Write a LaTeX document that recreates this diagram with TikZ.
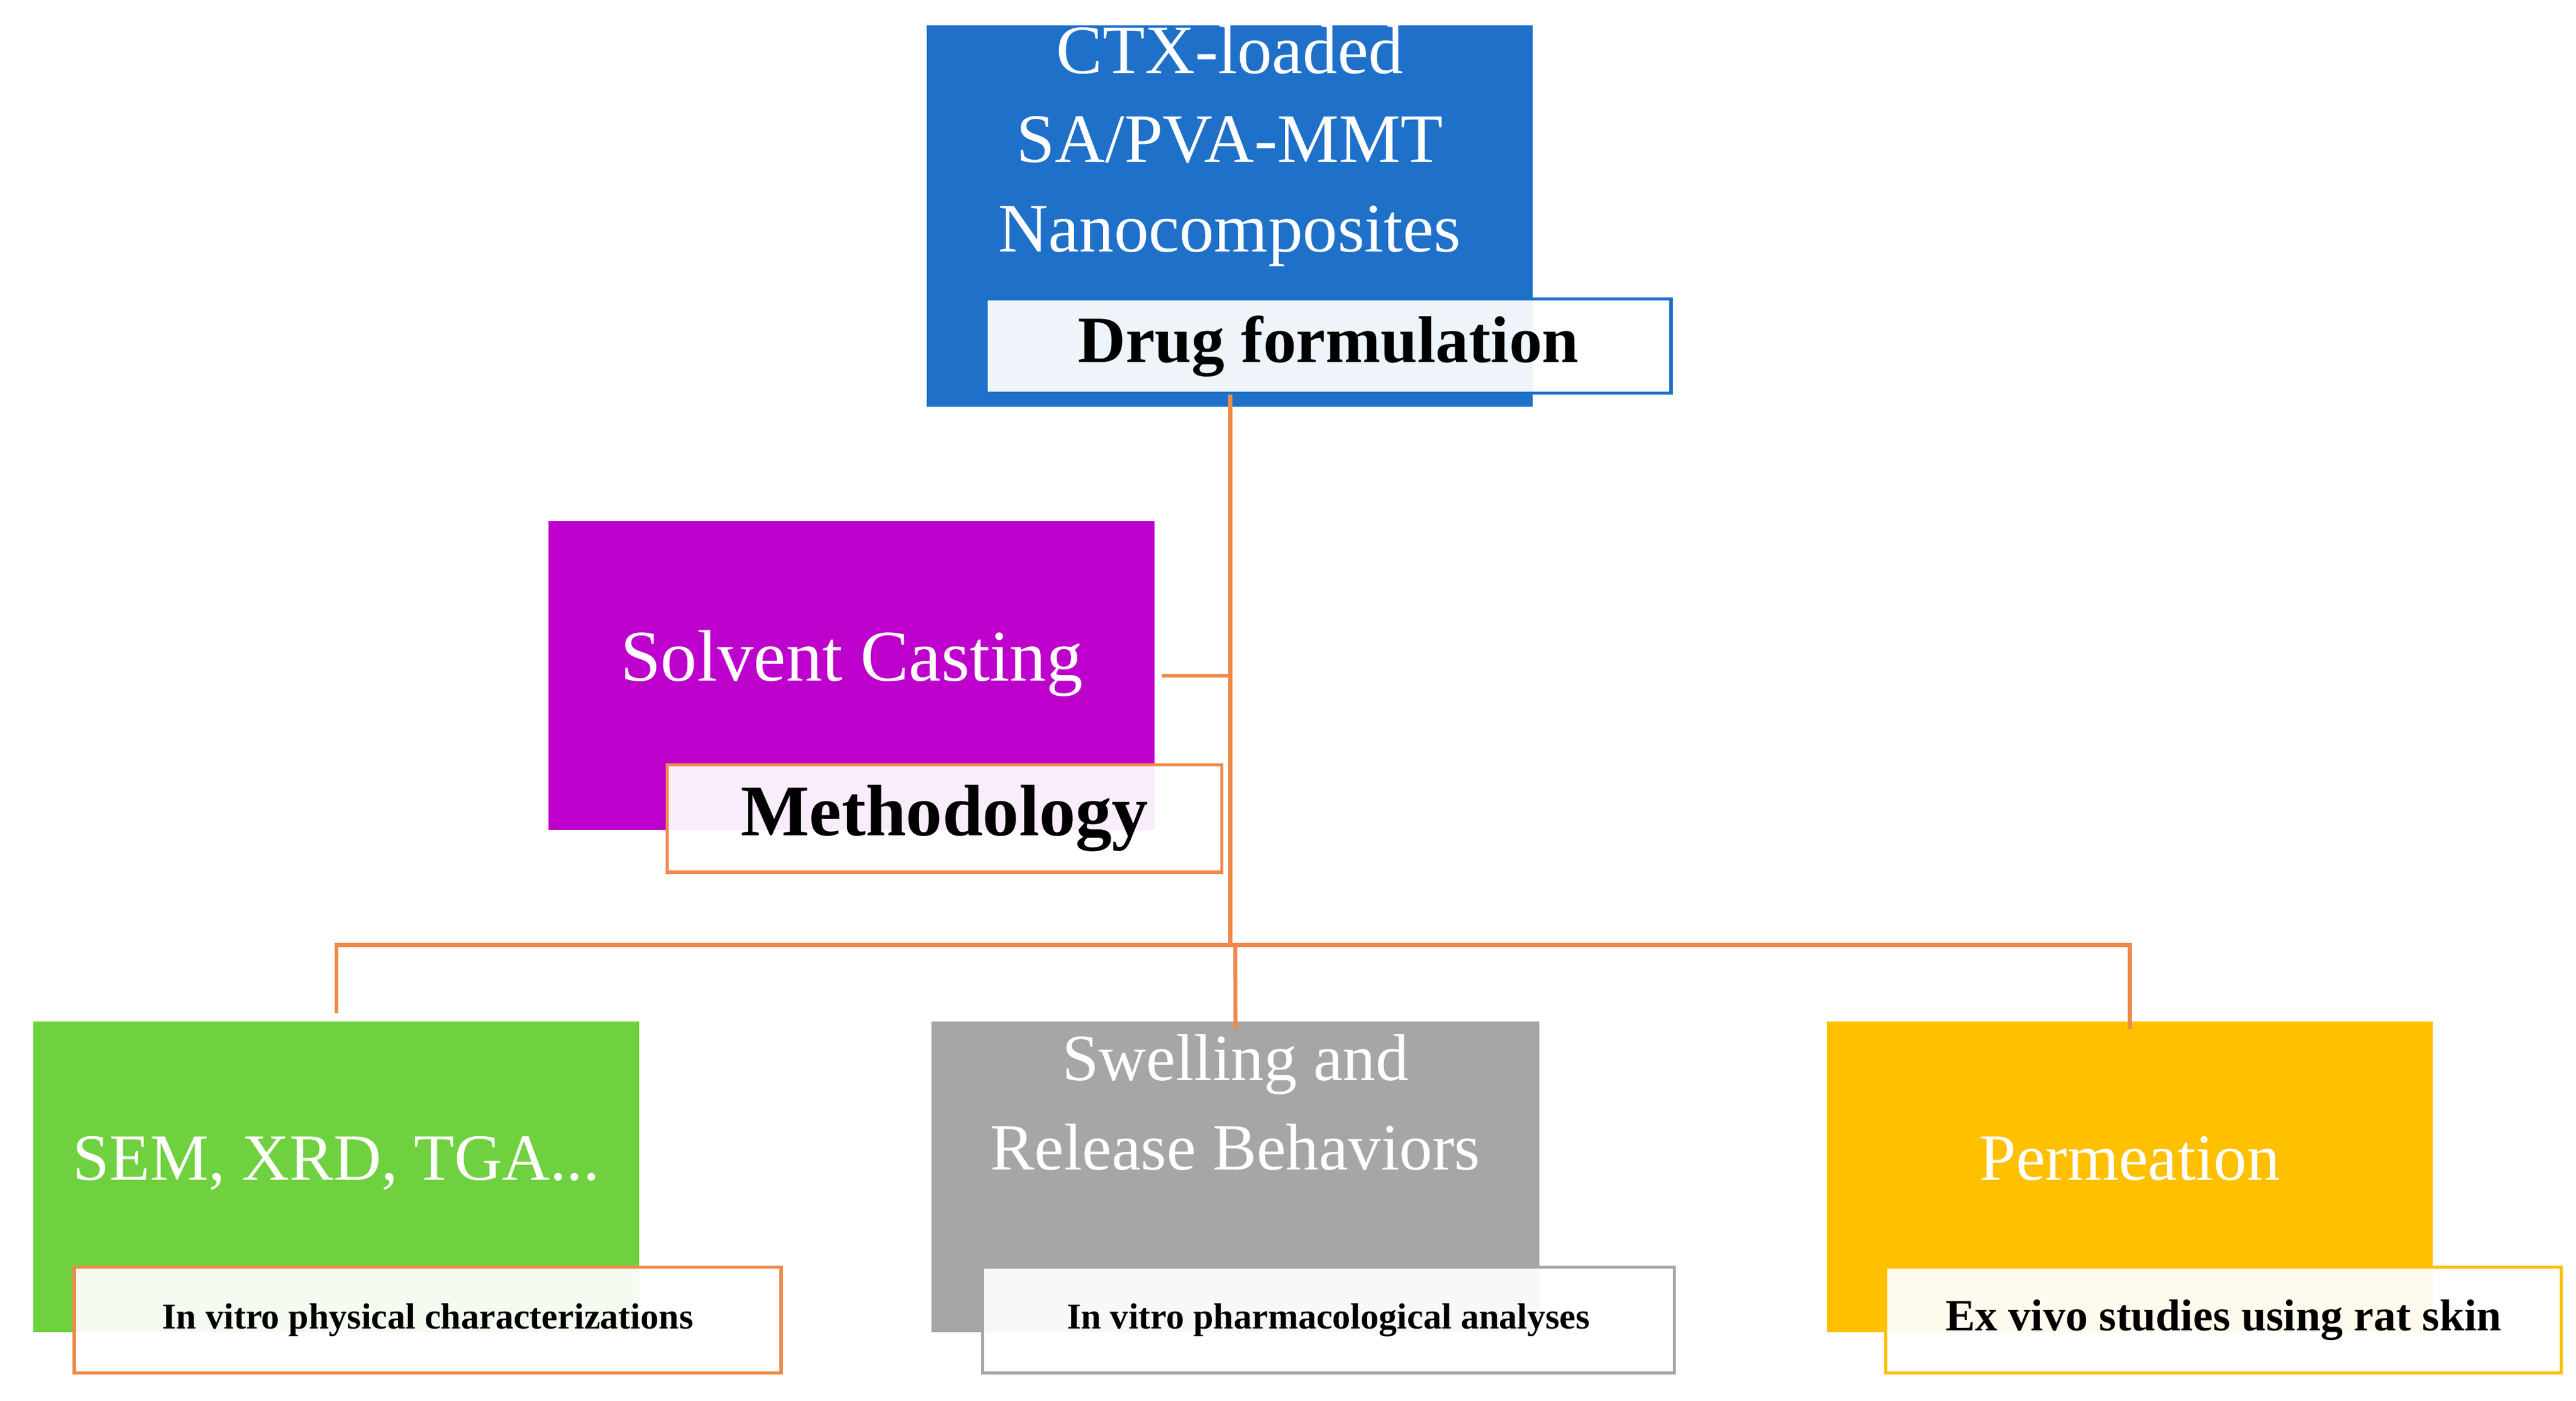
\documentclass[tikz,border=0pt]{standalone}
\usepackage{fontspec}
\setmainfont{Liberation Serif}
\begin{document}
\begin{tikzpicture}[x=1pt,y=-1pt,
 big/.style={fill=#1,text=white,inner sep=0pt,anchor=north west},
 lab/.style={draw=#1,line width=2pt,fill=white,fill opacity=0.93,text opacity=1,inner sep=0pt,anchor=north west,font=\bfseries},
 con/.style={draw=orange!80!red!70,line width=2.2pt}]
\useasboundingbox (0,0) rectangle (1560,848);
\definecolor{cblue}{HTML}{1F70C9}\definecolor{cpur}{HTML}{BD00CC}
\definecolor{cgreen}{HTML}{6FD13F}\definecolor{cgray}{HTML}{A6A6A6}
\definecolor{cyel}{HTML}{FFC000}\definecolor{corg}{HTML}{F08A4B}
\tikzset{con/.style={draw=corg,line width=2.4pt}}
\node[big=cblue,minimum width=367,minimum height=188,align=center,font=\fontsize{42}{54}\selectfont] (top) at (561,15) {CTX-loaded\\SA/PVA-MMT\\Nanocomposites\\[40pt]};
\node[lab=cblue,minimum width=415,minimum height=57,font=\fontsize{40}{44}\selectfont\bfseries] (topl) at (596,180) {Drug formulation};
\node[big=cpur,minimum width=367,minimum height=187,font=\fontsize{44}{50}\selectfont] (sol) at (332,315) {\raisebox{24pt}{Solvent Casting}};
\node[lab=corg,minimum width=336,minimum height=65,font=\fontsize{44}{50}\selectfont\bfseries] (met) at (403,462) {Methodology};
\node[big=cgreen,minimum width=367,minimum height=188,font=\fontsize{40}{48}\selectfont] (g) at (20,618) {\raisebox{22pt}{SEM, XRD, TGA...}};
\node[lab=corg,minimum width=428,minimum height=64,font=\fontsize{22}{26}\selectfont\bfseries] (gl) at (44,766) {In vitro physical characterizations};
\node[big=cgray,minimum width=368,minimum height=188,align=center,font=\fontsize{40}{54}\selectfont] (gr) at (564,618) {Swelling and\\Release Behaviors\\[36pt]};
\node[lab=cgray,minimum width=419,minimum height=64,font=\fontsize{22}{26}\selectfont\bfseries] (grl) at (594,766) {In vitro pharmacological analyses};
\node[big=cyel,minimum width=367,minimum height=188,font=\fontsize{40}{48}\selectfont] (y) at (1106,618) {\raisebox{22pt}{Permeation}};
\node[lab=cyel,minimum width=409,minimum height=64,font=\fontsize{27}{30}\selectfont\bfseries] (yl) at (1141,766) {Ex vivo studies using rat skin};
\coordinate (j) at (745,572);
\coordinate (s) at (745,409);
\draw[con] (topl.south -| 745,0) -- (j);
\draw[con] (sol.east |- s) ++(4,0) -- (s);
\draw[con] (g.north) ++(0,-5) |- (j) -| ([yshift=-5]y.north);
\draw[con] (748,572) -- ([yshift=-5]gr.north);
\end{tikzpicture}
\end{document}
